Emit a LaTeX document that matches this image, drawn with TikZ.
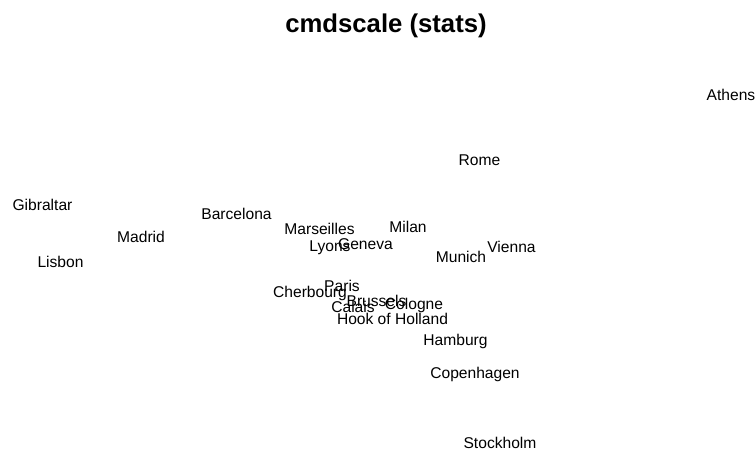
\documentclass[tikz,border=0pt]{standalone}
\usepackage{fontspec}
\setmainfont{Liberation Sans}
\begin{document}
\begin{tikzpicture}[x=1bp,y=-1bp,
  city/.style={anchor=base,inner sep=0pt,font=\fontsize{15.6bp}{18bp}\selectfont},
  ttl/.style={anchor=base,inner sep=0pt,font=\fontsize{25.7bp}{30bp}\selectfont\bfseries}]
\useasboundingbox[fill=white] (0,0) rectangle (755,450);
\node[ttl] (title) at (386,33) {cmdscale (stats)};
\node[city] (athens) at (731,101) {Athens};
\node[city] (rome) at (479.5,166) {Rome};
\node[city] (gibraltar) at (42.5,211) {Gibraltar};
\node[city] (barcelona) at (236.5,220) {Barcelona};
\node[city] (marseilles) at (319.5,235) {Marseilles};
\node[city] (milan) at (408,233) {Milan};
\node[city] (madrid) at (141,243) {Madrid};
\node[city] (lyons) at (330,252) {Lyons};
\node[city] (geneva) at (365.5,250) {Geneva};
\node[city] (vienna) at (511.5,253) {Vienna};
\node[city] (munich) at (461,263) {Munich};
\node[city] (lisbon) at (60.5,268) {Lisbon};
\node[city] (paris) at (342,292) {Paris};
\node[city] (cherbourg) at (310,298) {Cherbourg};
\node[city] (brussels) at (376.5,307) {Brussels};
\node[city] (cologne) at (414,310) {Cologne};
\node[city] (calais) at (353,313) {Calais};
\node[city] (hook) at (392.5,325) {Hook of Holland};
\node[city] (hamburg) at (455.5,346) {Hamburg};
\node[city] (copenhagen) at (475,378) {Copenhagen};
\node[city] (stockholm) at (500,448) {Stockholm};
\end{tikzpicture}
\end{document}
